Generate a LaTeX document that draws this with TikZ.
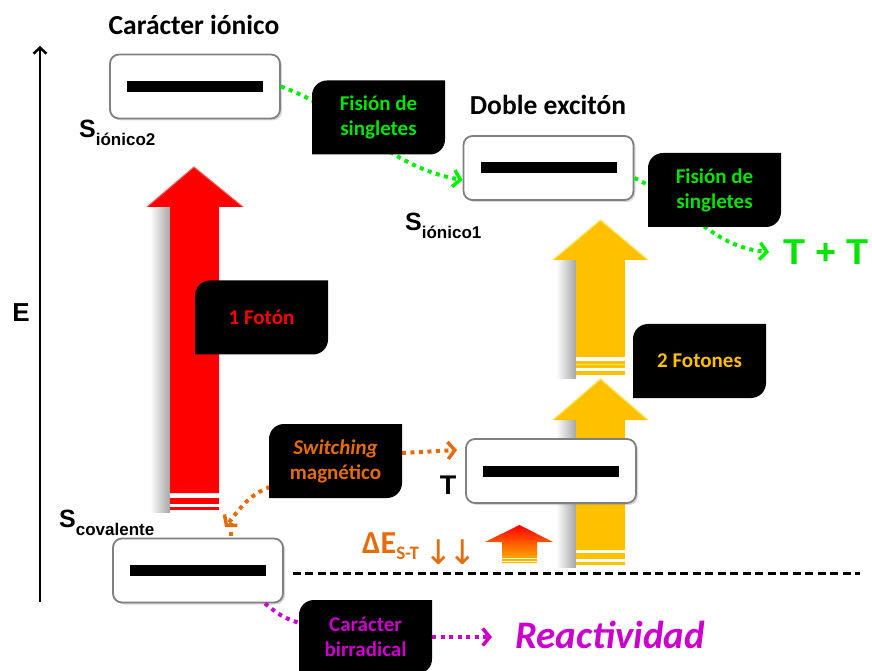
\documentclass[tikz,border=0pt]{standalone}
\usepackage{fontspec}
\setmainfont{Carlito}
\newfontfamily\arialf{Liberation Sans}
\newfontfamily\dejavuf{DejaVu Sans}
\usetikzlibrary{arrows.meta,shadows,calc}

\definecolor{fgreen}{RGB}{0,230,0}
\definecolor{dgreen}{RGB}{0,240,0}
\definecolor{mag}{RGB}{204,0,204}
\definecolor{orng}{RGB}{228,108,10}
\definecolor{yel}{RGB}{255,192,0}
\definecolor{yellite}{RGB}{255,230,90}
\definecolor{redlite}{RGB}{255,90,90}
\definecolor{lvlgray}{RGB}{128,128,128}

\newcommand\tagbg[2]{\begin{scope}[shift={(#1,#2)}]\fill[black] (-66.5,-37) -- (51.5,-37) arc[start angle=-90,end angle=0,radius=15] -- (66.5,37) -- (-51.5,37) arc[start angle=90,end angle=180,radius=15] -- cycle;\end{scope}}

\tikzset{
  lvl/.style={draw=lvlgray, line width=1.8pt, fill=white, rounded corners=9pt,
    minimum width=170pt, minimum height=64pt, inner sep=0pt,
    drop shadow={opacity=0.3,shadow xshift=2pt,shadow yshift=-2pt}},
  tagtext/.style={align=center, inner sep=0pt, font=\fontsize{21}{25}\selectfont\bfseries},
  title/.style={inner sep=0pt, font=\fontsize{27.5}{27.5}\selectfont\bfseries},
  slabel/.style={anchor=base west, inner sep=0pt, font=\arialf\bfseries\fontsize{25}{25}\selectfont},
  dotline/.style={line width=4pt, dash pattern=on 4pt off 4.5pt},
  chev/.style={-{Straight Barb[length=7pt,width=17pt,line width=3.5pt]}},
  ashadow/.style={left color=white, right color=black!35}
}

\newcommand\sub[1]{\raisebox{-8pt}{\fontsize{17}{17}\selectfont #1}}

\begin{document}
\begin{tikzpicture}[x=1pt,y=1pt]
\useasboundingbox (0,0) rectangle (872,670);

% ---- axis
\coordinate (ax0) at (40,68);
\coordinate (ax1) at (40,624);
\draw[line width=2.5pt, -{Straight Barb[length=6pt,width=13pt,line width=2.5pt]}] (ax0) -- (ax1);
\node[font=\arialf\bfseries\fontsize{26}{26}\selectfont, inner sep=0pt] (E) at (21,357) {E};

% ---- arrow shadows
\shade[ashadow] (150,158) rectangle (170,462);
\shade[ashadow] (556,292) rectangle (576,410);
\shade[ashadow] (556,103) rectangle (576,250);

% ---- red arrow
\fill[red] (170,177) -- (170,463) -- (147,463) -- (194,503) -- (243,463) -- (219,463) -- (219,177) -- cycle;
\draw[redlite, line width=1pt] (147,463) -- (194,503) -- (243,463);
\fill[red] (170,166) rectangle (219,172);
\fill[red] (170,160) rectangle (219,163);

% ---- yellow arrows
\fill[yel] (576,120) -- (576,250) -- (553,250) -- (600.5,291) -- (648,250) -- (625,250) -- (625,120) -- cycle;
\draw[yellite, line width=1.2pt] (553,250) -- (600.5,291) -- (648,250);
\fill[yel] (576,111) rectangle (625,117);
\fill[yel] (576,105) rectangle (625,108);
\fill[yel] (576,313) -- (576,410) -- (553,410) -- (600.5,450) -- (648,410) -- (625,410) -- (625,313) -- cycle;
\draw[yellite, line width=1.2pt] (553,410) -- (600.5,450) -- (648,410);
\fill[yel] (576,302) rectangle (625,309);
\fill[yel] (576,295) rectangle (625,299);
\draw[yellite, line width=1pt] (576,306) -- (625,306);

% ---- small gradient arrow
\shade[top color=red, bottom color=yel] (502,107) -- (502,128) -- (485,128) -- (519.5,145) -- (553,128) -- (537,128) -- (537,107) -- cycle;
\draw[white!80!yellow, line width=1pt] (502,112) -- (537,112);
\draw[white!80!yellow, line width=1pt] (502,109) -- (537,109);

% ---- dashed reference line
\coordinate (dl1) at (860,97);

% ---- level boxes
\node[lvl] (s2) at (195,583.5) {};
\node[lvl] (s1) at (548.5,502) {};
\node[lvl] (tb) at (551,199) {};
\node[lvl] (sc) at (198,99.5) {};
\foreach \b in {s2,s1,tb,sc}{\fill[black] (\b.center) ++(-68,-5.5) rectangle ++(136,11);}
\draw[line width=3pt, dash pattern=on 8pt off 4.5pt] ([xshift=9pt,yshift=-2.5pt]sc.east) -- (dl1);

% ---- labels
\node[title] (ci) at (194,645) {Carácter iónico};
\node[title] (de) at (548,565) {Doble excitón};
\node[slabel] (ls2) at (79,532) {S\sub{iónico2}};
\node[slabel] (ls1) at (405,439) {S\sub{iónico1}};
\node[slabel] (lsc) at (59,143) {S\sub{covalente}};
\node[font=\arialf\bfseries\fontsize{27}{27}\selectfont, inner sep=0pt] (lT) at (448,185) {T};
\node[anchor=west, inner sep=0pt, text=fgreen, font=\arialf\bfseries\fontsize{36}{36}\selectfont] (tt) at (783,418) {T + T};
\node[anchor=west, inner sep=0pt, text=mag, font=\bfseries\itshape\fontsize{39}{39}\selectfont] (rea) at (515,35) {Reactividad};
\node[anchor=base west, inner sep=0pt, text=orng, font=\bfseries\fontsize{32}{32}\selectfont] (dE) at (362,117) {ΔE\raisebox{-6pt}{\fontsize{19}{19}\selectfont S-T}};
\node[anchor=base west, inner sep=0pt, text=orng, font=\dejavuf\fontsize{34}{34}\selectfont] (dd) at (424,106) {↓\kern-4pt↓};

% ---- free connector ends
\coordinate (ah) at (225,143);
\coordinate (vt) at (231,147);
\coordinate (reend) at (492,33);
\coordinate (swr) at (402,217);
\coordinate (swl) at (270,183);
\coordinate (bri) at (300,47);
\coordinate (bro) at (432,33);

% ---- connectors
\draw[dgreen, dotline, chev] (s2.east) to[out=-20,in=170] ([yshift=-12pt]s1.west);
\draw[dgreen, dotline, chev] ([yshift=-10pt]s1.east) to[out=-25,in=175] ([xshift=-14pt]tt.west);
\draw[orng, dotline, chev] (swr) -- ([xshift=-8pt,yshift=21pt]tb.west);
\draw[orng, dotline, chev] (swl) to[out=200,in=50] (ah);
\draw[orng, dotline] (vt) -- (vt |- sc.north);
\draw[mag, dotline] ([xshift=67pt]sc.south) to[out=-40,in=165] (bri);
\draw[mag, dotline, chev] (bro) -- (reend);

% ---- tags
\tagbg{378.5}{552.5}
\node[tagtext, text=fgreen] (f1) at (378.5,552.5) {Fisión de\\singletes};
\tagbg{714.5}{480}
\node[tagtext, text=fgreen] (f2) at (714.5,480) {Fisión de\\singletes};
\tagbg{261.5}{352.5}
\node[tagtext, text=red] (fo) at (261.5,352.5) {1 Fotón};
\tagbg{699.5}{309}
\node[tagtext, text=yel] (ff) at (699.5,309) {2 Fotones};
\tagbg{335.5}{209}
\node[tagtext, text=orng] (sw) at (335.5,209) {\textit{Switching}\\magnético};
\tagbg{365.5}{33}
\node[tagtext, text=mag] (br) at (365.5,33) {Carácter\\birradical};

\end{tikzpicture}
\end{document}
